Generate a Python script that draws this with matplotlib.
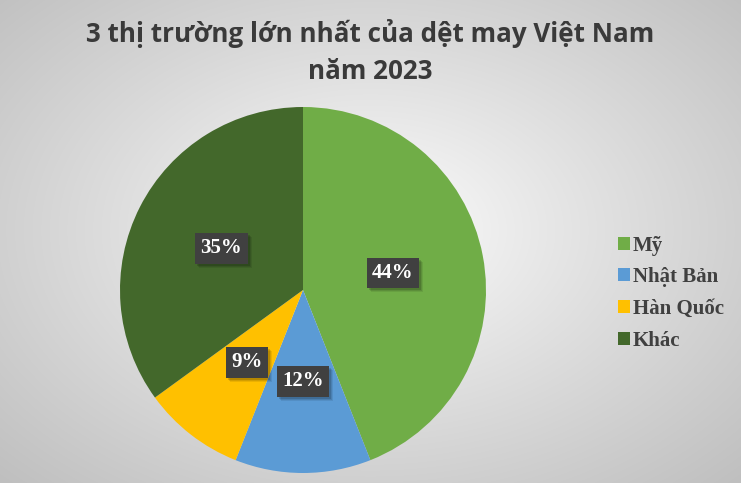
import numpy as np
import matplotlib
matplotlib.use("Agg")
import matplotlib.pyplot as plt
from matplotlib.patches import Patch, Rectangle
from matplotlib.transforms import IdentityTransform

# data
labels = ["Mỹ", "Nhật Bản", "Hàn Quốc", "Khác"]
shares = [44, 12, 9, 35]
colors = ["#70AD47", "#5B9BD5", "#FFC000", "#43682B"]
title = "3 thị trường lớn nhất của dệt may Việt Nam\nnăm 2023"

W, H = 741, 483
fig = plt.figure(figsize=(W / 100, H / 100), dpi=100)

# radial grey background
bg = fig.add_axes([0, 0, 1, 1], zorder=-10)
yy, xx = np.mgrid[0:H, 0:W]
d = np.sqrt(((xx - 370) / 370.0) ** 2 + ((yy - 230) / 250.0) ** 2) / np.sqrt(2)
g = np.clip(1 - 0.25 * d ** 0.9, 0, 1)
bg.imshow(np.dstack([g, g, g]), aspect="auto", extent=[0, 1, 0, 1])
bg.axis("off")

# pie
ax = fig.add_axes([(303 - 183) / W, (H - 290 - 183) / H, 366 / W, 366 / H])
wedges, texts = ax.pie(shares, colors=colors, startangle=90, counterclock=False,
                       radius=1.0, labels=None)
ax.set_xlim(-1, 1)
ax.set_ylim(-1, 1)
ax.set_aspect("equal")
ax.axis("off")

value_texts = []
for w, v in zip(wedges, shares):
    ang = np.deg2rad((w.theta1 + w.theta2) / 2)
    r = 0.5
    t = ax.text(r * np.cos(ang), r * np.sin(ang), f"{v}%", ha="center", va="center",
                color="white", fontsize=15, fontweight="bold", family="Liberation Serif",
                bbox=dict(boxstyle="square,pad=0.25", fc="#404040", ec="none"),
                zorder=5)
    value_texts.append(t)

fig.text(370 / W, 1 - 52 / H, title, ha="center", va="center", fontsize=18.7,
         fontweight="bold", color="#3a3a3a", family=["Open Sans", "DejaVu Sans"],
         linespacing=1.45)

handles = [Patch(facecolor=c, edgecolor="none") for c in colors]
leg = fig.legend(handles, labels, loc="center left", bbox_to_anchor=(618 / W, 1 - 293 / H),
                 frameon=False, handlelength=0.58, handleheight=0.58, handletextpad=0.12,
                 labelspacing=0.56, borderpad=0, borderaxespad=0,
                 prop={"family": "Liberation Serif", "weight": "bold", "size": 15})
for t in leg.get_texts():
    t.set_color("#404040")

# soft drop shadows behind the value boxes
fig.canvas.draw()
renderer = fig.canvas.get_renderer()
for t in value_texts:
    bb = t.get_bbox_patch().get_window_extent(renderer)
    for k, a in [(4, 0.08), (3, 0.10), (2, 0.14)]:
        ax.add_artist(Rectangle((bb.x0 + k, bb.y0 - k), bb.width, bb.height,
                                transform=IdentityTransform(), fc="black", ec="none",
                                alpha=a, zorder=4))

fig.savefig("out.png", dpi=100)
